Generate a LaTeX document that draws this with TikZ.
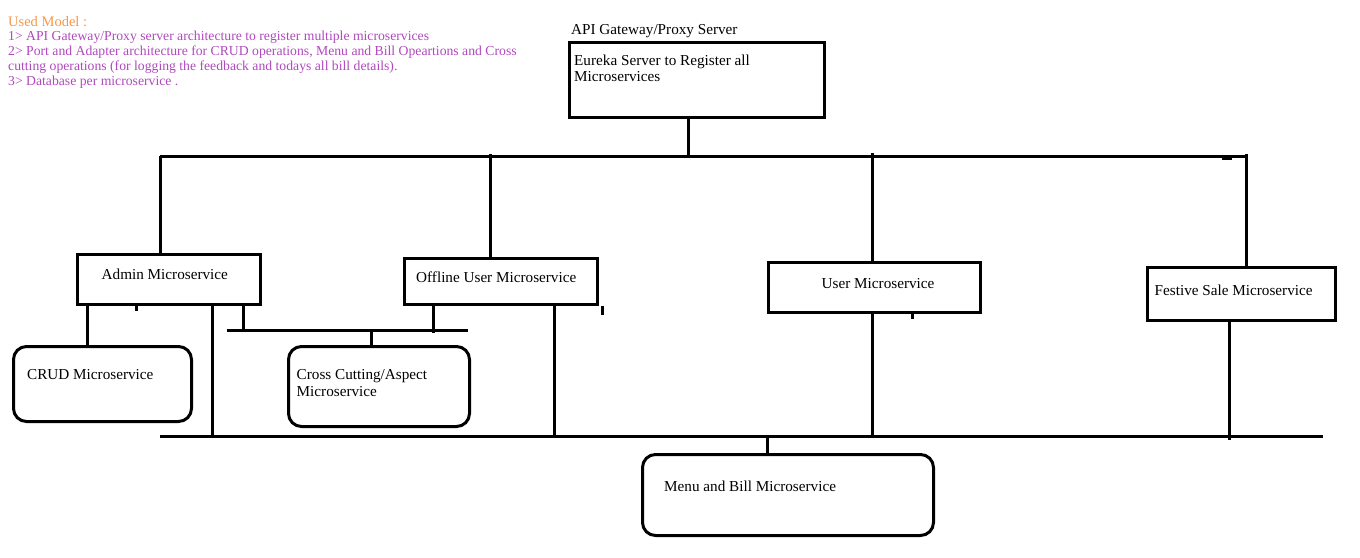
\documentclass[tikz,border=0pt]{standalone}
\usepackage{fontspec}
\setmainfont{Liberation Serif}
\definecolor{hdrorange}{RGB}{247,150,70}
\definecolor{hdrpurple}{RGB}{176,72,190}
\begin{document}
\begin{tikzpicture}[x=1pt,y=-1pt,
  box/.style={draw, line width=3pt, inner sep=0pt, anchor=north west},
  rbox/.style={box, rounded corners=13pt},
  wire/.style={line width=3pt},
  lbl/.style={anchor=base west, inner sep=0pt, font=\fontsize{15.2}{18}\selectfont},
  hdr/.style={anchor=base west, inner sep=0pt, font=\fontsize{13.7}{15}\selectfont, text=hdrpurple}]
\useasboundingbox (0,0) rectangle (1360,557);

% header text
\node[anchor=base west, inner sep=0pt, font=\fontsize{14.5}{17}\selectfont, text=hdrorange] (h0) at (8,26) {Used Model :};
\node[hdr] (h1) at (8,40.7) {1> API Gateway/Proxy server architecture to register multiple microservices};
\node[hdr] (h2) at (8,55.7) {2> Port and Adapter architecture for CRUD operations, Menu and Bill Opeartions and Cross};
\node[hdr] (h3) at (8,70.7) {cutting operations (for logging the feedback and todays all bill details).};
\node[hdr] (h4) at (8,85.7) {3> Database per microservice .};

% boxes
\node[box, minimum width=255pt, minimum height=75pt] (eureka) at (568,41) {};
\node[box, minimum width=183pt, minimum height=50pt] (admin) at (76,253) {};
\node[box, minimum width=193pt, minimum height=46pt] (offline) at (403,257) {};
\node[box, minimum width=212pt, minimum height=50pt] (user) at (767,261) {};
\node[box, minimum width=188pt, minimum height=53pt] (festive) at (1146,266) {};
\node[rbox, minimum width=178pt, minimum height=75pt] (crud) at (12,345) {};
\node[rbox, minimum width=181pt, minimum height=80pt] (cross) at (287,345) {};
\node[rbox, minimum width=291pt, minimum height=81pt] (menu) at (641,453) {};

% texts
\node[lbl] (tgw) at (571,34) {API Gateway/Proxy Server};
\node[lbl] (te1) at (574,65) {Eureka Server to Register all};
\node[lbl] (te2) at (574,81.7) {Microservices};
\node[lbl] (tad) at (101.5,279) {Admin Microservice};
\node[lbl] (tof) at (416,282) {Offline User Microservice};
\node[lbl] (tus) at (821.5,288) {User Microservice};
\node[lbl] (tfe) at (1154.5,295) {Festive Sale Microservice};
\node[lbl] (tcr) at (27,379) {CRUD Microservice};
\node[lbl] (tcc1) at (296.5,379.5) {Cross Cutting/Aspect};
\node[lbl] (tcc2) at (296.5,396) {Microservice};
\node[lbl] (tmb) at (664,491) {Menu and Bill Microservice};

% buses
\coordinate (busTopL) at (160,156);
\coordinate (busTopR) at (1246,156);
\coordinate (busMidL) at (227,330);
\coordinate (busMidR) at (468,330);
\coordinate (busBotL) at (160,436);
\coordinate (busBotR) at (1323,436);
\draw[wire] (busTopL) -- (busTopR);
\draw[wire] (busMidL) -- (busMidR);
\draw[wire] (busBotL) -- (busBotR);

% connectors
\draw[wire] ([xshift=-8.5pt]eureka.south) -- ([xshift=-8.5pt]eureka.south |- busTopL);
\draw[wire] (busTopL) -- (busTopL |- admin.north);
\draw[wire] ([xshift=-10.5pt]offline.north) -- ([xshift=-10.5pt, yshift=2pt]offline.north |- busTopL);
\draw[wire] ([xshift=-2pt]user.north) -- ([xshift=-2pt, yshift=3pt]user.north |- busTopL);
\draw[wire] (busTopR |- festive.north) -- ([yshift=2pt]busTopR);
\draw[wire] ([xshift=-12pt]festive.south) -- ([xshift=-12pt, yshift=-4pt]festive.south |- busBotL);
\draw[wire] ([xshift=-2pt]user.south) -- ([xshift=-2pt]user.south |- busBotL);
\draw[wire] ([xshift=11pt]admin.south west) -- ([xshift=11pt]admin.south west |- crud.north);
\draw[wire] ([xshift=136pt]admin.south west) -- ([xshift=136pt]admin.south west |- busBotL);
\draw[wire] ([xshift=167pt]admin.south west) -- ([xshift=167pt]admin.south west |- busMidL);
\draw[wire] ([xshift=30pt]offline.south west) -- ([xshift=30pt, yshift=-3pt]offline.south west |- busMidL);
\draw[wire] ([xshift=151pt]offline.south west) -- ([xshift=151pt]offline.south west |- busBotL);
\draw[wire] ([xshift=84pt]cross.north west) -- ([xshift=84pt]cross.north west |- busMidL);
\draw[wire] ([xshift=126pt]menu.north west) -- ([xshift=126pt]menu.north west |- busBotL);

% small stray ticks
\draw[wire] ([xshift=60pt]admin.south west) -- ++(0,5);
\draw[wire] ([xshift=3pt]offline.south east) -- ++(0,9);
\draw[wire] ([xshift=145pt]user.south west) -- ++(0,5);
\draw[line width=2pt] (1222,158.5) -- (1232,158.5);
\end{tikzpicture}
\end{document}
